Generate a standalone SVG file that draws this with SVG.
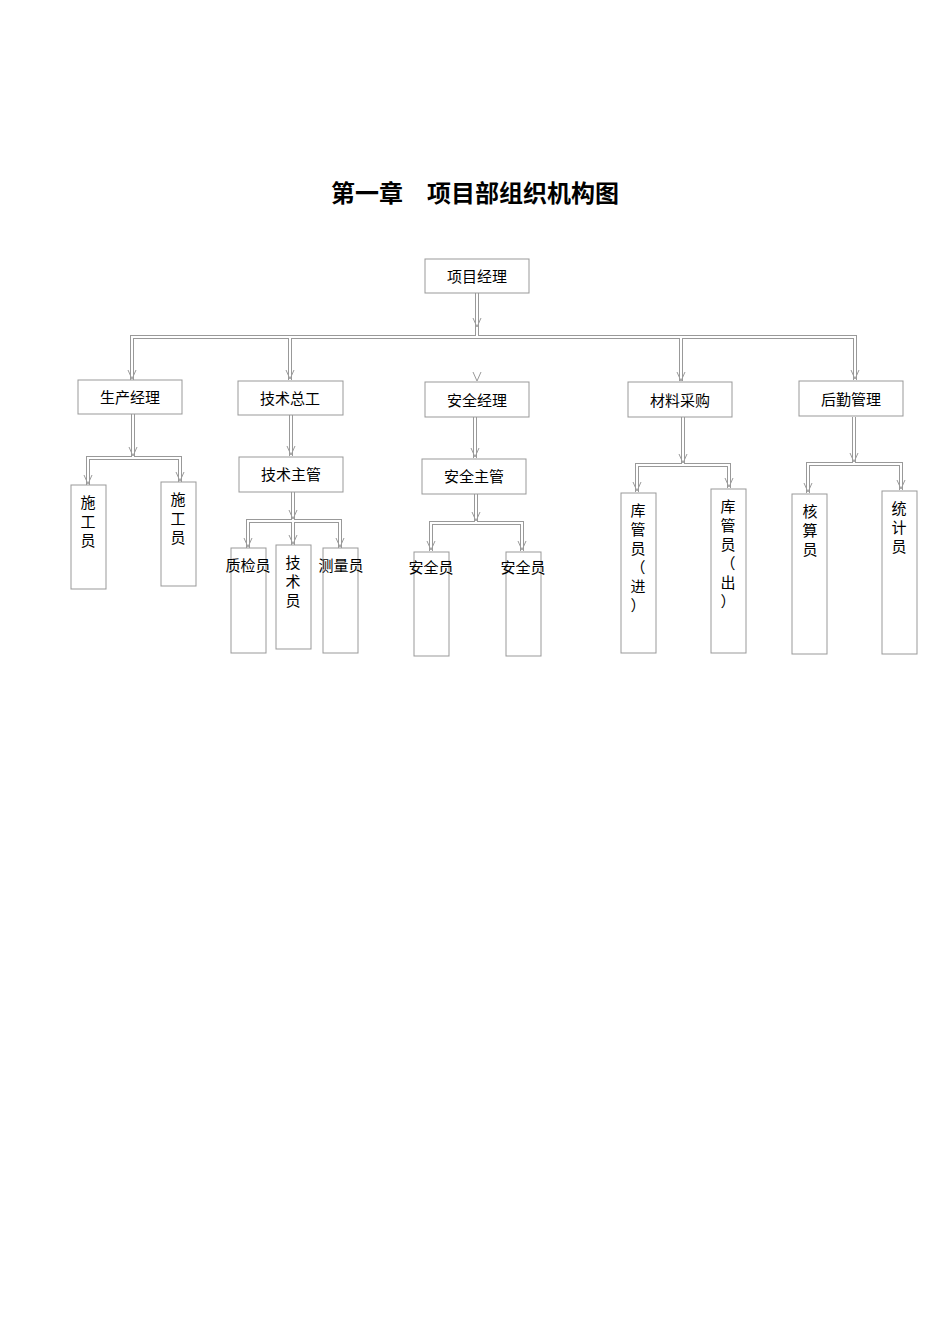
<svg xmlns="http://www.w3.org/2000/svg" width="950" height="1344" viewBox="0 0 950 1344">
<style>
text{font-family:"Liberation Serif","Noto Sans CJK SC",serif;fill:#000}
.t{font-size:15px;text-anchor:middle}
.box{fill:#fff;stroke:#999;stroke-width:1}
.co{fill:none;stroke:#999;stroke-width:4}
.ci{fill:none;stroke:#fff;stroke-width:2}
</style>
<defs>
<marker id="a" markerWidth="8" markerHeight="8" refX="4" refY="7" orient="auto" markerUnits="userSpaceOnUse">
<path d="M0.5,1 L4,7 L7.5,1" fill="#fff" stroke="#999" stroke-width="1"/>
</marker>
</defs>
<rect width="950" height="1344" fill="#fff"/>
<text x="475" y="202" font-size="24" font-weight="bold" text-anchor="middle">第一章　项目部组织机构图</text>
<g id="connectors">
<path class="co" d="M477,293V337M132,380V337H855V380M290,337V380M681,337V381"/>
<path class="ci" d="M477,293V337M132,380V337H855V380M290,337V380M681,337V381"/>
<path class="co" d="M133,414V458M88,485V458H180V482M291,415V456M293,492V521M248,548V521H340V548M293,521V545M475,417V458M476,494V523M431,551V523H522V551M683,417V465M637,492V465H729V488M854,417V464M808,493V464H901V490"/>
<path class="ci" d="M133,414V458M88,485V458H180V482M291,415V456M293,492V521M248,548V521H340V548M293,521V545M475,417V458M476,494V523M431,551V523H522V551M683,417V465M637,492V465H729V488M854,417V464M808,493V464H901V490"/>
<g fill="none" stroke="#999" stroke-width="1">
<path d="M473,318L477,327L481,318M128,370L132,379L136,370M286,370L290,379L294,370M473,372L477,381L481,372M677,372L681,381L685,372M851,370L855,379L859,370"/>
<path d="M129,447L133,456L137,447M84,475L88,484L92,475M176,472L180,481L184,472M287,446L291,455L295,446M289,510L293,519L297,510M244,538L248,547L252,538M289,535L293,544L297,535M336,538L340,547L344,538M471,448L475,457L479,448M472,512L476,521L480,512M427,541L431,550L435,541M518,541L522,550L526,541M679,454L683,463L687,454M633,482L637,491L641,482M725,478L729,487L733,478M850,453L854,462L858,453M804,483L808,492L812,483M897,480L901,489L905,480"/>
</g>
</g>
<g id="n-pm"><rect class="box" x="425" y="259" width="104" height="34"/><text class="t" x="477" y="282">项目经理</text></g>
<g id="n-scjl"><rect class="box" x="78" y="380" width="104" height="34"/><text class="t" x="130" y="403">生产经理</text></g>
<g id="n-jszg"><rect class="box" x="238" y="381" width="105" height="34"/><text class="t" x="290" y="404">技术总工</text></g>
<g id="n-aqjl"><rect class="box" x="425" y="382" width="104" height="35"/><text class="t" x="477" y="406">安全经理</text></g>
<g id="n-clcg"><rect class="box" x="628" y="382" width="104" height="35"/><text class="t" x="680" y="406">材料采购</text></g>
<g id="n-hqgl"><rect class="box" x="799" y="381" width="104" height="35"/><text class="t" x="851" y="405">后勤管理</text></g>
<g id="n-sgy1"><rect class="box" x="71" y="485" width="35" height="104"/><text class="t" x="88" y="508">施</text><text class="t" x="88" y="527">工</text><text class="t" x="88" y="546">员</text></g>
<g id="n-sgy2"><rect class="box" x="161" y="482" width="35" height="104"/><text class="t" x="178" y="505">施</text><text class="t" x="178" y="524">工</text><text class="t" x="178" y="543">员</text></g>
<g id="n-jszhg"><rect class="box" x="239" y="457" width="104" height="35"/><text class="t" x="291" y="480">技术主管</text></g>
<g id="n-aqzg"><rect class="box" x="422" y="459" width="104" height="35"/><text class="t" x="474" y="482">安全主管</text></g>
<g id="n-zjy"><rect class="box" x="231" y="548" width="35" height="105"/><text class="t" x="248" y="571">质检员</text></g>
<g id="n-jsy"><rect class="box" x="276" y="545" width="35" height="104"/><text class="t" x="293" y="568">技</text><text class="t" x="293" y="587">术</text><text class="t" x="293" y="606">员</text></g>
<g id="n-cly"><rect class="box" x="323" y="548" width="35" height="105"/><text class="t" x="341" y="571">测量员</text></g>
<g id="n-aqy1"><rect class="box" x="414" y="552" width="35" height="104"/><text class="t" x="431" y="573">安全员</text></g>
<g id="n-aqy2"><rect class="box" x="506" y="552" width="35" height="104"/><text class="t" x="523" y="573">安全员</text></g>
<g id="n-kgj"><rect class="box" x="621" y="493" width="35" height="160"/><text class="t" x="638" y="516">库</text><text class="t" x="638" y="535">管</text><text class="t" x="638" y="554">员</text><text class="t" x="638" y="573">（</text><text class="t" x="638" y="592">进</text><text class="t" x="638" y="611">）</text></g>
<g id="n-kgc"><rect class="box" x="711" y="489" width="35" height="164"/><text class="t" x="728" y="512">库</text><text class="t" x="728" y="531">管</text><text class="t" x="728" y="550">员</text><text class="t" x="728" y="569">（</text><text class="t" x="728" y="588">出</text><text class="t" x="728" y="607">）</text></g>
<g id="n-hsy"><rect class="box" x="792" y="494" width="35" height="160"/><text class="t" x="810" y="517">核</text><text class="t" x="810" y="536">算</text><text class="t" x="810" y="555">员</text></g>
<g id="n-tjy"><rect class="box" x="882" y="491" width="35" height="163"/><text class="t" x="899" y="514">统</text><text class="t" x="899" y="533">计</text><text class="t" x="899" y="552">员</text></g>
</svg>
